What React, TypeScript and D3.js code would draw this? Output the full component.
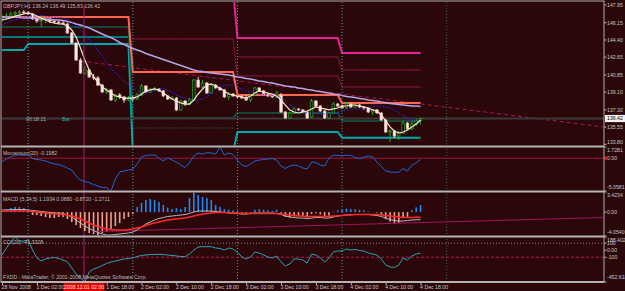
import React, { useEffect, useRef } from "react";
import * as d3 from "d3";

const W = 625;
const H = 291;

// GBPJPY H1 candles, 28 Nov 18:00 .. 4 Dec 18:00
const openP = [146.43,146.63,146.83,147.04,147.14,147.24,147.14,147.04,146.53,146.33,
146.43,146.53,146.33,146.22,146.12,146.02,145.11,144.09,142.36,141.04,
141.35,140.64,140.54,139.82,139.11,139.32,138.30,138.81,138.61,138.30,
138.50,138.40,138.81,139.72,139.11,139.32,139.42,139.22,138.71,138.40,
138.50,137.29,138.20,137.89,138.30,140.33,139.62,140.03,139.01,139.82,
139.52,139.32,138.61,138.91,138.71,138.61,138.50,138.30,138.81,139.52,
139.22,138.91,138.71,138.61,138.81,137.08,136.47,136.98,137.39,137.29,
137.08,136.57,138.20,137.69,137.18,136.47,136.98,137.89,137.69,137.49,
137.89,137.59,137.79,137.59,137.49,137.08,137.29,136.98,136.27,135.05,
135.15,134.64,134.95,135.96,135.36,135.86,136.24];
const highP = [146.93,147.14,147.24,147.34,147.44,147.44,147.34,147.14,146.63,146.53,
146.63,146.63,146.43,146.33,146.33,146.12,145.21,144.19,142.57,141.75,
141.45,140.94,140.74,139.93,139.52,139.42,138.91,139.01,138.71,138.71,
138.71,139.01,139.93,139.82,139.52,139.62,139.52,139.32,138.81,138.71,
138.61,138.30,138.30,138.50,140.43,140.64,140.33,140.13,139.93,139.93,
139.62,139.42,139.11,139.01,138.81,138.81,138.81,138.91,139.62,139.62,
139.32,139.01,138.81,139.22,139.01,137.18,137.08,137.59,137.49,137.39,
137.18,138.40,138.30,137.79,137.29,137.08,138.10,138.00,137.79,138.10,
138.00,137.89,137.89,137.69,137.59,137.39,137.39,137.08,136.37,135.36,
135.26,135.15,136.17,136.07,136.17,136.37,136.49];
const lowP = [146.22,146.43,146.63,146.83,146.93,147.04,146.93,146.43,146.12,145.72,
146.12,146.12,146.02,146.02,145.92,145.01,143.99,142.26,140.94,140.84,
140.54,140.33,139.72,139.01,138.91,138.20,138.10,138.40,138.00,138.20,
138.20,138.30,138.71,139.01,139.01,139.22,139.11,138.61,138.30,138.30,
137.18,137.18,137.69,137.79,138.20,139.52,139.52,138.91,138.91,139.42,
139.22,138.50,138.30,138.61,138.50,138.40,138.20,138.10,138.71,139.11,
138.81,138.61,138.50,138.50,136.98,136.37,136.37,136.88,137.18,136.98,
136.37,136.47,137.59,137.08,136.37,136.37,136.88,137.59,137.39,137.39,
137.49,137.49,137.49,137.29,136.98,136.78,136.88,136.17,134.95,134.04,
134.44,134.24,134.85,135.26,135.26,135.66,135.83];
const closeP = [146.63,146.83,147.04,147.14,147.24,147.14,147.04,146.53,146.33,146.43,
146.53,146.33,146.22,146.12,146.02,145.11,144.09,142.36,141.04,141.35,
140.64,140.54,139.82,139.11,139.32,138.30,138.81,138.61,138.30,138.50,
138.40,138.81,139.72,139.11,139.32,139.42,139.22,138.71,138.40,138.50,
137.29,138.20,137.89,138.30,140.33,139.62,140.03,139.01,139.82,139.52,
139.32,138.61,138.91,138.71,138.61,138.50,138.30,138.81,139.52,139.22,
138.91,138.71,138.61,139.01,137.08,136.47,136.98,137.39,137.29,137.08,
136.47,138.20,137.69,137.18,136.47,136.98,137.89,137.69,137.49,137.89,
137.59,137.79,137.59,137.49,137.08,137.29,136.98,136.27,135.05,135.15,
134.64,134.95,135.96,135.36,135.86,136.17,136.42];

// moving averages on the price chart
const maFast = [146.43,146.53,146.63,146.83,146.93,147.04,147.14,147.04,146.83,146.63,
146.43,146.22,146.12,146.02,146.02,145.82,145.41,144.70,143.58,142.36,
141.35,140.64,140.13,139.62,139.32,139.01,138.71,138.61,138.50,138.50,
138.50,138.61,138.91,139.22,139.32,139.42,139.32,139.01,138.71,138.40,
138.20,138.00,137.89,137.89,138.30,138.91,139.42,139.82,139.93,139.72,
139.52,139.22,138.91,138.81,138.71,138.61,138.50,138.71,139.01,139.22,
139.11,139.01,138.91,138.71,138.30,137.79,137.29,137.08,136.98,137.08,
137.18,137.39,137.59,137.49,137.39,137.29,137.39,137.49,137.69,137.69,
137.79,137.79,137.69,137.59,137.49,137.29,137.18,136.78,136.17,135.56,
135.15,134.95,135.05,135.26,135.56,135.86,136.27];
const maSlow = [146.73,146.73,146.73,146.73,146.68,146.63,146.63,146.63,146.58,146.53,
146.53,146.48,146.43,146.43,146.38,146.27,146.17,146.02,145.92,145.77,
145.62,145.41,145.21,145.01,144.80,144.65,144.40,144.14,143.94,143.73,
143.53,143.38,143.23,143.02,142.87,142.72,142.57,142.41,142.26,142.11,
141.96,141.81,141.65,141.50,141.35,141.25,141.20,141.09,141.04,140.99,
140.94,140.89,140.84,140.74,140.64,140.59,140.49,140.43,140.33,140.23,
140.18,140.08,140.03,139.93,139.82,139.72,139.67,139.62,139.52,139.47,
139.37,139.32,139.22,139.16,139.06,139.01,138.91,138.86,138.76,138.66,
138.61,138.55,138.45,138.40,138.30,138.25,138.20,138.10,138.05,137.94,
137.89,137.84,137.79,137.74,137.69,137.69,137.64];
const maMid = [145.92,146.12,146.33,146.43,146.58,146.68,146.78,146.83,146.88,146.88,
146.83,146.78,146.73,146.68,146.63,146.43,146.22,145.82,145.51,145.01,
144.40,143.89,143.38,142.77,142.16,141.45,141.04,140.64,140.23,139.93,
139.52,139.22,139.01,139.01,139.11,139.22,139.42,139.42,139.32,139.11,
138.81,138.61,138.50,138.40,138.30,138.30,138.40,138.61,139.01,139.42,
139.62,139.82,139.82,139.82,139.62,139.42,139.22,139.11,139.01,138.91,
138.86,138.81,138.76,138.66,138.50,138.20,137.79,137.49,137.18,137.03,
136.98,136.93,136.88,136.88,136.88,136.88,136.93,137.03,137.18,137.29,
137.39,137.39,137.39,137.44,137.49,137.59,137.69,137.69,137.59,137.54,
137.29,136.98,136.68,136.47,136.27,136.17,136.17];

// daily levels (28 Nov, 1 Dec, 2 Dec, 3 Dec, 4 Dec)
const dayStarts = [0, 6, 30, 54, 78];
const daySeparators = [6, 30, 54, 78, 102];
const levelPivot = [146.73, 146.73, 141.15, 138.81, 138.0];
const levelHigh = [null, null, 149.5, 144.6, 143.08];
const levelThinA = [null, null, 144.5, 140.74, 139.62];
const levelThinB = [null, null, null, 142.67, 141.35];
const levelGreen = [145.72, 145.72, 136.47, 136.98, 136.17];
const levelTeal = [143.38, 143.99, 133.0, 135.05, 134.47];
const levelTeal2 = [144.7, 144.7, null, null, null];
const levelTealDot = [null, null, 135.46, null, null];
const priceTrend = [{ bar: 18, v: 142.26 }, { bar: 138, v: 135.56 }];

const momentum = [-0.54,-0.12,0.19,0.49,0.49,0.49,0.49,-0.05,-0.20,-0.28,
-0.43,-0.69,-0.89,-0.97,-1.20,-1.51,-1.82,-2.74,-3.36,-3.59,
-3.78,-4.06,-4.29,-4.52,-4.56,-5.06,-3.21,-2.13,-1.97,-1.82,
-1.71,-0.89,0.19,0.42,0.49,0.49,0.03,-0.43,0.03,-0.28,
-0.59,-1.05,-1.43,-0.74,0.34,0.80,0.65,0.85,0.80,0.65,
1.73,0.49,0.80,0.57,-0.28,-1.05,-1.28,-0.89,-0.43,-0.28,
-0.20,-0.12,-0.05,-0.28,-1.20,-1.59,-1.20,-1.05,-1.20,-1.51,
-1.67,-0.59,-0.66,-1.05,-1.20,0.03,0.49,0.42,0.34,0.49,
0.42,0.11,-0.05,0.19,0.34,0.19,-0.59,-1.28,-1.97,-2.13,
-2.17,-2.17,-1.59,-1.97,-1.05,-0.74,-0.1982];

const macdHist = [0.36,0.53,0.70,0.87,0.87,0.70,0.53,-0.49,-0.49,-0.66,
-0.83,-1.00,-1.00,-0.83,-0.83,-1.17,-1.68,-2.19,-2.70,-3.21,
-3.55,-3.72,-4.05,-3.55,-3.21,-2.87,-2.36,-1.85,-1.17,-0.83,
-0.32,0.87,1.55,2.06,2.23,2.06,1.72,1.21,0.78,0.53,
0.70,0.53,0.87,2.40,3.42,2.91,2.57,2.40,2.06,1.21,
0.90,0.50,0.40,0.30,0.20,-0.10,-0.30,-0.10,0.40,0.50,
0.40,0.30,0.20,0.40,-0.30,-0.80,-0.90,-0.70,-0.60,-0.60,
-0.90,-0.30,-0.20,-0.40,-0.80,-0.60,0.10,0.30,0.40,0.60,
0.50,0.50,0.40,0.30,0.10,0.02,-0.10,-0.50,-1.20,-1.60,
-1.90,-1.80,-1.00,-0.80,0.30,0.80,1.1934];
const macdSignal = [0.19,0.19,0.19,0.19,0.19,0.19,0.19,0.11,0.02,-0.06,
-0.15,-0.23,-0.32,-0.32,-0.40,-0.49,-0.66,-0.83,-1.17,-1.51,
-1.85,-2.19,-2.44,-2.70,-2.87,-2.95,-3.04,-3.04,-3.04,-2.95,
-2.87,-2.70,-2.53,-2.27,-2.02,-1.85,-1.68,-1.51,-1.34,-1.25,
-1.17,-1.08,-1.00,-0.83,-0.66,-0.49,-0.32,-0.23,-0.15,-0.06,
-0.06,-0.06,-0.06,-0.15,-0.15,-0.23,-0.23,-0.23,-0.23,-0.23,
-0.23,-0.23,-0.23,-0.23,-0.32,-0.40,-0.49,-0.57,-0.66,-0.66,
-0.74,-0.74,-0.74,-0.74,-0.74,-0.74,-0.66,-0.66,-0.57,-0.49,
-0.49,-0.40,-0.40,-0.40,-0.40,-0.40,-0.40,-0.49,-0.57,-0.66,
-0.74,-0.83,-0.91,-0.91,-0.91,-0.88,-0.872];
const macdMain = [0.36,0.36,0.45,0.45,0.45,0.45,0.36,0.28,0.19,0.11,
0.02,-0.06,-0.15,-0.15,-0.23,-0.49,-0.83,-1.34,-1.85,-2.36,
-2.78,-3.12,-3.46,-3.72,-3.89,-3.89,-3.80,-3.72,-3.63,-3.55,
-3.38,-3.04,-2.53,-2.02,-1.68,-1.34,-1.08,-0.91,-0.74,-0.66,
-0.57,-0.49,-0.40,-0.23,0.02,0.19,0.19,0.19,0.19,0.11,
0.02,-0.06,-0.15,-0.15,-0.23,-0.32,-0.32,-0.23,-0.15,-0.15,
-0.15,-0.15,-0.15,-0.23,-0.40,-0.66,-0.83,-0.91,-1.00,-1.00,
-1.08,-1.00,-0.91,-0.91,-1.00,-1.00,-0.83,-0.66,-0.57,-0.49,
-0.40,-0.40,-0.40,-0.40,-0.40,-0.49,-0.57,-0.74,-1.00,-1.25,
-1.42,-1.51,-1.51,-1.42,-1.34,-1.30,-1.2711];
const macdTrend = [{ bar: 21, v: -3.32 }, { bar: 138, v: -0.91 }];

const cci = [-67.9,31.8,117.2,188.4,131.5,131.5,145.7,3.3,-110.7,-153.4,
-124.9,-110.7,-103.6,-117.8,-139.2,-167.6,-253.1,-338.6,-395.6,-452.6,
-310.1,-267.4,-246.0,-217.5,-189.0,-167.6,-153.4,-139.2,-124.9,-117.8,
-110.7,-89.3,-75.1,-67.9,-60.8,-60.8,-58.0,-60.8,-67.9,-75.1,
-82.2,-89.3,-92.2,-53.7,3.3,46.0,50.3,50.3,50.3,31.8,
24.6,3.3,31.8,17.5,-25.2,-96.4,-124.9,-96.4,-25.2,-39.5,
-67.9,-96.4,-110.7,-82.2,-167.6,-224.6,-196.1,-124.9,-124.9,-139.2,
-181.9,-53.7,-67.9,-110.7,-167.6,-110.7,-25.2,-11.0,-11.0,17.5,
3.3,10.4,-3.8,-11.0,-39.5,-53.7,-67.9,-124.9,-210.4,-238.9,
-246.0,-210.4,-110.7,-139.2,-82.2,-53.7,-41.3328];

const priceTicks = [147.95, 146.15, 144.4, 142.65, 140.85, 139.1, 137.3, 135.55, 133.8];
const momTicks = [1.7281, 0, -5.0581];
const macdTicks = [3.4234, 0, -4.054];
const cciTicks = [188.4024, 100, 0, -100, -452.6187];
const timeTickBars = [0, 8, 24, 32, 40, 48, 56, 64, 72, 80, 88, 96];
const timeTickLabels = ["28 Nov 2008", "1 Dec 02:00", "1 Dec 18:00", "2 Dec 02:00", "2 Dec 10:00",
  "2 Dec 18:00", "3 Dec 02:00", "3 Dec 10:00", "3 Dec 18:00", "4 Dec 02:00", "4 Dec 10:00", "4 Dec 18:00"];
const vLineBar = 18.8;
const vLineLabel = "2008.12.01 02:00";

const BG = "#2b070a";
const FONT = "Liberation Sans, Arial, sans-serif";
const FS = 5.2;

function draw(svgEl: SVGSVGElement) {
  const svg = d3.select(svgEl);
  svg.selectAll("*").remove();

  const x = d3.scaleLinear().domain([0, 100]).range([2, 438]);
  const yP = d3.scaleLinear().domain([133.8, 147.95]).range([144.3, 5]);
  const yM = d3.scaleLinear().domain([-5.0581, 1.7281]).range([191, 147]);
  const yD = d3.scaleLinear().domain([-4.054, 3.4234]).range([236, 192]);
  const yC = d3.scaleLinear().domain([-452.6187, 188.4024]).range([282, 237]);

  const panels = [
    { id: "cp0", top: 2, bottom: 145.5 },
    { id: "cp1", top: 147.5, bottom: 190.5 },
    { id: "cp2", top: 192.5, bottom: 235.5 },
    { id: "cp3", top: 237.5, bottom: 281.5 },
  ];
  const defs = svg.append("defs");
  panels.forEach(p => {
    defs.append("clipPath").attr("id", p.id)
      .append("rect").attr("x", 1.5).attr("y", p.top).attr("width", 602).attr("height", p.bottom - p.top);
  });

  svg.append("rect").attr("width", W).attr("height", H).attr("fill", BG);

  const seriesLine = (vals: (number | null)[], yS: any) =>
    d3.line<number | null>().defined(d => d != null).x((_, i) => x(i)).y(d => yS(d as number))(vals);
  const byDay = (vals: (number | null)[]) =>
    closeP.map((_, i) => vals[d3.bisectRight(dayStarts, i) - 1]);
  const trendLine = (pts: { bar: number; v: number }[], yS: any) =>
    d3.line<{ bar: number; v: number }>().x(d => x(d.bar)).y(d => yS(d.v))(pts);

  // ---- main price panel
  const gMain = svg.append("g").attr("clip-path", "url(#cp0)");

  gMain.append("path").attr("d", trendLine(priceTrend, yP)).attr("fill", "none")
    .attr("stroke", "#a8185a").attr("stroke-width", 1).attr("stroke-dasharray", "4,3");

  const levels = [
    { vals: levelTeal2, color: "#007a7a", w: 2, dash: null },
    { vals: levelTeal, color: "#00aaaa", w: 2, dash: null },
    { vals: levelTealDot, color: "#0a8585", w: 1, dash: "1,2" },
    { vals: levelGreen, color: "#0f5c48", w: 1.5, dash: null },
    { vals: levelThinA, color: "#8e1648", w: 1, dash: null },
    { vals: levelThinB, color: "#8e1648", w: 1, dash: null },
    { vals: levelHigh, color: "#e6229a", w: 2, dash: null },
    { vals: levelPivot, color: "#ff6650", w: 2, dash: null },
  ];
  levels.forEach(l => {
    gMain.append("path").attr("d", seriesLine(byDay(l.vals), yP)).attr("fill", "none")
      .attr("stroke", l.color).attr("stroke-width", l.w).attr("stroke-dasharray", l.dash);
  });

  // bid line
  const bid = closeP[closeP.length - 1];
  gMain.append("line").attr("x1", 1).attr("x2", 604).attr("y1", yP(bid)).attr("y2", yP(bid))
    .attr("stroke", "#3a3a3a").attr("stroke-width", 2);

  // vertical lines across all panels
  svg.append("g").selectAll("line").data(daySeparators).join("line")
    .attr("x1", d => x(d)).attr("x2", d => x(d)).attr("y1", 2).attr("y2", 282)
    .attr("stroke", d => (d === 102 ? "#3a6666" : "#4f9e9e")).attr("stroke-width", 1)
    .attr("stroke-dasharray", "1,2");
  svg.append("line").attr("x1", x(vLineBar)).attr("x2", x(vLineBar)).attr("y1", 5).attr("y2", 282)
    .attr("stroke", "#a0207c").attr("stroke-width", 1);

  // candles
  const bars = closeP.map((c, i) => ({ i, o: openP[i], h: highP[i], l: lowP[i], c }));
  const cg = gMain.append("g");
  cg.selectAll("line").data(bars).join("line")
    .attr("x1", d => x(d.i)).attr("x2", d => x(d.i)).attr("y1", d => yP(d.h)).attr("y2", d => yP(d.l))
    .attr("stroke", d => (d.c >= d.o ? "#1cb21c" : "#f2c4c4")).attr("stroke-width", 1);
  cg.selectAll("rect").data(bars).join("rect")
    .attr("x", d => x(d.i) - 1.3).attr("width", 2.6)
    .attr("y", d => yP(Math.max(d.o, d.c)))
    .attr("height", d => Math.max(0.8, Math.abs(yP(d.o) - yP(d.c))))
    .attr("fill", d => (d.c >= d.o ? BG : "#fff3f3"))
    .attr("stroke", d => (d.c >= d.o ? "#1cb21c" : "#f0b0b0")).attr("stroke-width", 0.7);

  // moving averages
  gMain.append("path").attr("d", seriesLine(maSlow, yP)).attr("fill", "none")
    .attr("stroke", "#b4a6ea").attr("stroke-width", 1.5);
  gMain.append("path").attr("d", seriesLine(maMid, yP)).attr("fill", "none")
    .attr("stroke", "#2c2cff").attr("stroke-width", 1).attr("stroke-dasharray", "1.5,1.5");
  gMain.append("path").attr("d", seriesLine(maFast, yP)).attr("fill", "none")
    .attr("stroke", "#f4e8c8").attr("stroke-width", 1.2);

  // ---- momentum
  const gMom = svg.append("g").attr("clip-path", "url(#cp1)");
  gMom.append("line").attr("x1", 1).attr("x2", 604).attr("y1", yM(0)).attr("y2", yM(0))
    .attr("stroke", "#9e1446").attr("stroke-width", 1);
  gMom.append("path").attr("d", seriesLine(momentum, yM)).attr("fill", "none")
    .attr("stroke", "#1c68d8").attr("stroke-width", 1);

  // ---- MACD
  const gMacd = svg.append("g").attr("clip-path", "url(#cp2)");
  gMacd.selectAll("rect").data(macdHist).join("rect")
    .attr("x", (_, i) => x(i) - 0.8).attr("width", 1.6)
    .attr("y", d => Math.min(yD(d), yD(0))).attr("height", d => Math.abs(yD(d) - yD(0)))
    .attr("fill", d => (d >= 0 ? "#2288f0" : "#eea08c"));
  gMacd.append("path").attr("d", trendLine(macdTrend, yD)).attr("fill", "none")
    .attr("stroke", "#a0145c").attr("stroke-width", 1);
  gMacd.append("path").attr("d", seriesLine(macdMain, yD)).attr("fill", "none")
    .attr("stroke", "#b8b8b8").attr("stroke-width", 1);
  gMacd.append("path").attr("d", seriesLine(macdSignal, yD)).attr("fill", "none")
    .attr("stroke", "#ff2a2a").attr("stroke-width", 1.5);

  // ---- CCI
  const gCci = svg.append("g").attr("clip-path", "url(#cp3)");
  gCci.append("line").attr("x1", 1).attr("x2", 604).attr("y1", yC(100)).attr("y2", yC(100))
    .attr("stroke", "#8c8c8c").attr("stroke-width", 1).attr("stroke-dasharray", "1,2");
  gCci.append("line").attr("x1", 1).attr("x2", 604).attr("y1", yC(-100)).attr("y2", yC(-100))
    .attr("stroke", "#b8185a").attr("stroke-width", 1).attr("stroke-dasharray", "3,2");
  gCci.append("path").attr("d", seriesLine(cci, yC)).attr("fill", "none")
    .attr("stroke", "#2aa4b2").attr("stroke-width", 1);

  // ---- frame and separators
  svg.append("rect").attr("x", 1).attr("y", 1).attr("width", 603).attr("height", 281)
    .attr("fill", "none").attr("stroke", "#acacac").attr("stroke-width", 1);
  [146.5, 191.5, 236.5, 282].forEach(yy => {
    svg.append("line").attr("x1", 1).attr("x2", 604).attr("y1", yy).attr("y2", yy)
      .attr("stroke", "#b4b4b4").attr("stroke-width", 2);
  });

  // ---- right axes
  const txt = (sel: any) => sel.attr("font-family", FONT).attr("font-size", FS).attr("fill", "#c8c8c8");
  const rightAxis = (scale: any, ticks: number[], fmt: (v: number) => string, top: number, bottom: number) => {
    const g = svg.append("g");
    ticks.forEach(v => {
      const yy = scale(v);
      let ty = yy;
      if (yy < top + 4) ty = top + 3.6;
      if (yy > bottom - 4) ty = bottom - 3.8;
      g.append("line").attr("x1", 604).attr("x2", 606.5).attr("y1", yy).attr("y2", yy)
        .attr("stroke", "#b0b0b0").attr("stroke-width", 1);
      txt(g.append("text")).attr("x", 607).attr("y", ty).attr("dy", "0.35em").text(fmt(v));
    });
  };
  rightAxis(yP, priceTicks, v => v.toFixed(2), 1, 146);
  rightAxis(yM, momTicks, v => (v === 0 ? "0.00" : String(v)), 147, 191);
  rightAxis(yD, macdTicks, v => (v === 0 ? "0.00" : v.toFixed(4)), 192, 236);
  rightAxis(yC, cciTicks, v => (v === 0 ? "0.00" : String(v)), 237, 281);

  svg.append("rect").attr("x", 605).attr("y", yM(0) - 1.7).attr("width", 2).attr("height", 3.4).attr("fill", "#e01010");

  // current price box
  svg.append("rect").attr("x", 605).attr("y", yP(bid) - 3.6).attr("width", 20).attr("height", 7.2)
    .attr("fill", "#f2f2f2");
  svg.append("text").attr("x", 607).attr("y", yP(bid)).attr("dy", "0.35em")
    .attr("font-family", FONT).attr("font-size", FS).attr("fill", "#000").text(bid.toFixed(2));

  // ---- time axis
  const xAxis = d3.axisBottom(x).tickValues(timeTickBars).tickSize(3)
    .tickFormat((_, i) => timeTickLabels[i]);
  const gx = svg.append("g").attr("transform", "translate(0,282)").call(xAxis);
  gx.select(".domain").remove();
  gx.selectAll(".tick line").attr("stroke", "#b0b0b0");
  gx.selectAll(".tick text").attr("text-anchor", "start").attr("x", -1).attr("y", 3.5)
    .attr("font-family", FONT).attr("font-size", FS).attr("fill", "#c8c8c8");

  svg.append("rect").attr("x", x(vLineBar) - 20.5).attr("y", 283).attr("width", 41).attr("height", 8)
    .attr("fill", "#e00000");
  svg.append("text").attr("x", x(vLineBar)).attr("y", 287.2).attr("dy", "0.35em").attr("text-anchor", "middle")
    .attr("font-family", FONT).attr("font-size", FS).attr("fill", "#ffe8e8").text(vLineLabel);

  // ---- panel captions
  const cap = (s: string, xx: number, yy: number, color = "#bcbcbc") =>
    svg.append("text").attr("x", xx).attr("y", yy).attr("dy", "0.35em")
      .attr("font-family", FONT).attr("font-size", FS).attr("fill", color).text(s);
  cap("GBPJPY,H1  136.24 136.49 135.83 136.42", 3, 6);
  cap("00:18:21", 26, 119, "#a8a8a8");
  cap("Bar:", 62, 119, "#2aa8a8");
  cap("Momentum(20) -0.1982", 3, 152.7);
  cap("MACD (5,34,5) 1.1934 0.0880 -0.8720 -1.2711", 3, 199);
  cap("CCI(20) -41.3328", 3, 242.3);
  cap("FXDD - MetaTrader, \u00a9 2001-2008 MetaQuotes Software Corp.", 3, 277.3);
}

export default function App() {
  const ref = useRef<SVGSVGElement>(null);
  useEffect(() => {
    if (ref.current) draw(ref.current);
  }, []);
  return (
    <svg ref={ref} width={W} height={H}
      style={{ position: "absolute", left: 0, top: 0, display: "block" }} />
  );
}
